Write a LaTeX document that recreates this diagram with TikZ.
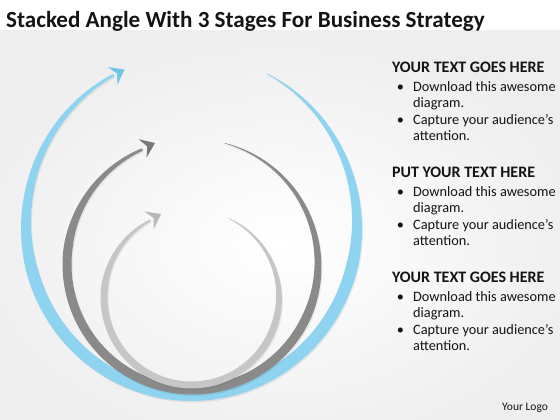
\documentclass[tikz,border=0pt]{standalone}
\usepackage{fontspec}
\setmainfont{Carlito}
\definecolor{bgedge}{RGB}{238,238,238}
\definecolor{ringblue}{RGB}{142,211,239}
\definecolor{headblue}{RGB}{112,197,233}
\definecolor{ringdark}{RGB}{138,138,138}
\definecolor{headdark}{RGB}{120,120,120}
\definecolor{ringlight}{RGB}{198,198,198}
\definecolor{headlight}{RGB}{185,185,185}
\definecolor{txt}{RGB}{20,20,20}
\begin{document}
\begin{tikzpicture}[x=1pt,y=1pt,
  declare function={
    wb(\t)=min(12,0.5+0.15*(63-\t),2.5+0.12*(\t+242));
    wd(\t)=min(9,0.5+0.085*(75-\t),2.5+0.11*(\t+246.5));
    wl(\t)=min(7,0.5+0.08*(65-\t),2+0.09*(\t+242));
  },
  titlefont/.style={font=\bfseries\fontsize{23.1}{27}\selectfont, text=txt, anchor=base west, inner sep=0},
  headtxt/.style={font=\bfseries\fontsize{16}{19}\selectfont, text=txt, anchor=base west, inner sep=0},
  bodytxt/.style={font=\fontsize{14.3}{17}\selectfont, text=txt, anchor=base west, inner sep=0},
  bullettxt/.style={font=\fontsize{14.3}{17}\selectfont, text=txt, anchor=base, inner sep=0},
  logotxt/.style={font=\fontsize{11.5}{13}\selectfont, text=txt, anchor=base west, inner sep=0},
  shadowfill/.style={fill=black, opacity=0.07},
  arrowhd/.style={line join=miter}
]
\useasboundingbox (0,0) rectangle (560,420);
% background
\fill[white] (0,0) rectangle (560,420);
\shade[inner color=white, outer color=bgedge] (-40,-40) rectangle (600,390);
\fill[white] (0,390) rectangle (560,420);

% ---------- blue (outer) ring ----------
\fill[shadowfill, shift={(1,-1.5)}]
  plot[domain=63:-242, samples=160] ({191.5+(165.5+0.5*wb(\x))*cos(\x)},{195+(170+0.5*wb(\x))*sin(\x)})
  -- plot[domain=-242:63, samples=160] ({191.5+(165.5-0.5*wb(\x))*cos(\x)},{195+(170-0.5*wb(\x))*sin(\x)}) -- cycle;
\fill[ringblue]
  plot[domain=63:-242, samples=160] ({191.5+(165.5+0.5*wb(\x))*cos(\x)},{195+(170+0.5*wb(\x))*sin(\x)})
  -- plot[domain=-242:63, samples=160] ({191.5+(165.5-0.5*wb(\x))*cos(\x)},{195+(170-0.5*wb(\x))*sin(\x)}) -- cycle;
\fill[headblue, arrowhd, shift={(124.5,350.5)}, rotate=28.6]
  (0,0) -- (-13.5,10) -- (-8.5,0) -- (-13.5,-10) -- cycle;

% ---------- dark grey (middle) ring ----------
\fill[shadowfill, shift={(1,-1.5)}]
  plot[domain=75:-246.5, samples=160] ({192.5+(125.5+0.5*wd(\x))*cos(\x)},{155.5+(125.5+0.5*wd(\x))*sin(\x)})
  -- plot[domain=-246.5:75, samples=160] ({192.5+(125.5-0.5*wd(\x))*cos(\x)},{155.5+(125.5-0.5*wd(\x))*sin(\x)}) -- cycle;
\fill[ringdark]
  plot[domain=75:-246.5, samples=160] ({192.5+(125.5+0.5*wd(\x))*cos(\x)},{155.5+(125.5+0.5*wd(\x))*sin(\x)})
  -- plot[domain=-246.5:75, samples=160] ({192.5+(125.5-0.5*wd(\x))*cos(\x)},{155.5+(125.5-0.5*wd(\x))*sin(\x)}) -- cycle;
\fill[headdark, arrowhd, shift={(155,277)}, rotate=23.5]
  (0,0) -- (-13.5,10) -- (-8.5,0) -- (-13.5,-10) -- cycle;

% ---------- light grey (inner) ring ----------
\fill[shadowfill, shift={(1,-1.5)}]
  plot[domain=65:-242, samples=140] ({191.5+(87.5+0.5*wl(\x))*cos(\x)},{122.5+(87.5+0.5*wl(\x))*sin(\x)})
  -- plot[domain=-242:65, samples=140] ({191.5+(87.5-0.5*wl(\x))*cos(\x)},{122.5+(87.5-0.5*wl(\x))*sin(\x)}) -- cycle;
\fill[ringlight]
  plot[domain=65:-242, samples=140] ({191.5+(87.5+0.5*wl(\x))*cos(\x)},{122.5+(87.5+0.5*wl(\x))*sin(\x)})
  -- plot[domain=-242:65, samples=140] ({191.5+(87.5-0.5*wl(\x))*cos(\x)},{122.5+(87.5-0.5*wl(\x))*sin(\x)}) -- cycle;
\fill[headlight, arrowhd, shift={(161,206)}, rotate=28]
  (0,0) -- (-13.5,10) -- (-8.5,0) -- (-13.5,-10) -- cycle;

% ---------- title ----------
\node[titlefont] (title) at (6,392.7) {Stacked Angle With 3 Stages For Business Strategy};

% ---------- section 1 ----------
\node[headtxt] (h1) at (392,347) {YOUR TEXT GOES HERE};
\node[bullettxt] (b1a) at (400.5,328.5) {•};
\node[bodytxt] (t1a) at (413,328.5) {Download this awesome};
\node[bodytxt] (t1b) at (413,312) {diagram.};
\node[bullettxt] (b1b) at (400.5,295.5) {•};
\node[bodytxt] (t1c) at (413,295.5) {Capture your audience’s};
\node[bodytxt] (t1d) at (413,279) {attention.};

% ---------- section 2 ----------
\node[headtxt] (h2) at (392,242) {PUT YOUR TEXT HERE};
\node[bullettxt] (b2a) at (400.5,223.5) {•};
\node[bodytxt] (t2a) at (413,223.5) {Download this awesome};
\node[bodytxt] (t2b) at (413,207) {diagram.};
\node[bullettxt] (b2b) at (400.5,190.5) {•};
\node[bodytxt] (t2c) at (413,190.5) {Capture your audience’s};
\node[bodytxt] (t2d) at (413,174) {attention.};

% ---------- section 3 ----------
\node[headtxt] (h3) at (392,137) {YOUR TEXT GOES HERE};
\node[bullettxt] (b3a) at (400.5,118.5) {•};
\node[bodytxt] (t3a) at (413,118.5) {Download this awesome};
\node[bodytxt] (t3b) at (413,102) {diagram.};
\node[bullettxt] (b3b) at (400.5,85.5) {•};
\node[bodytxt] (t3c) at (413,85.5) {Capture your audience’s};
\node[bodytxt] (t3d) at (413,69) {attention.};

% ---------- logo ----------
\node[logotxt] (logo) at (502,9) {Your Logo};
\end{tikzpicture}
\end{document}
